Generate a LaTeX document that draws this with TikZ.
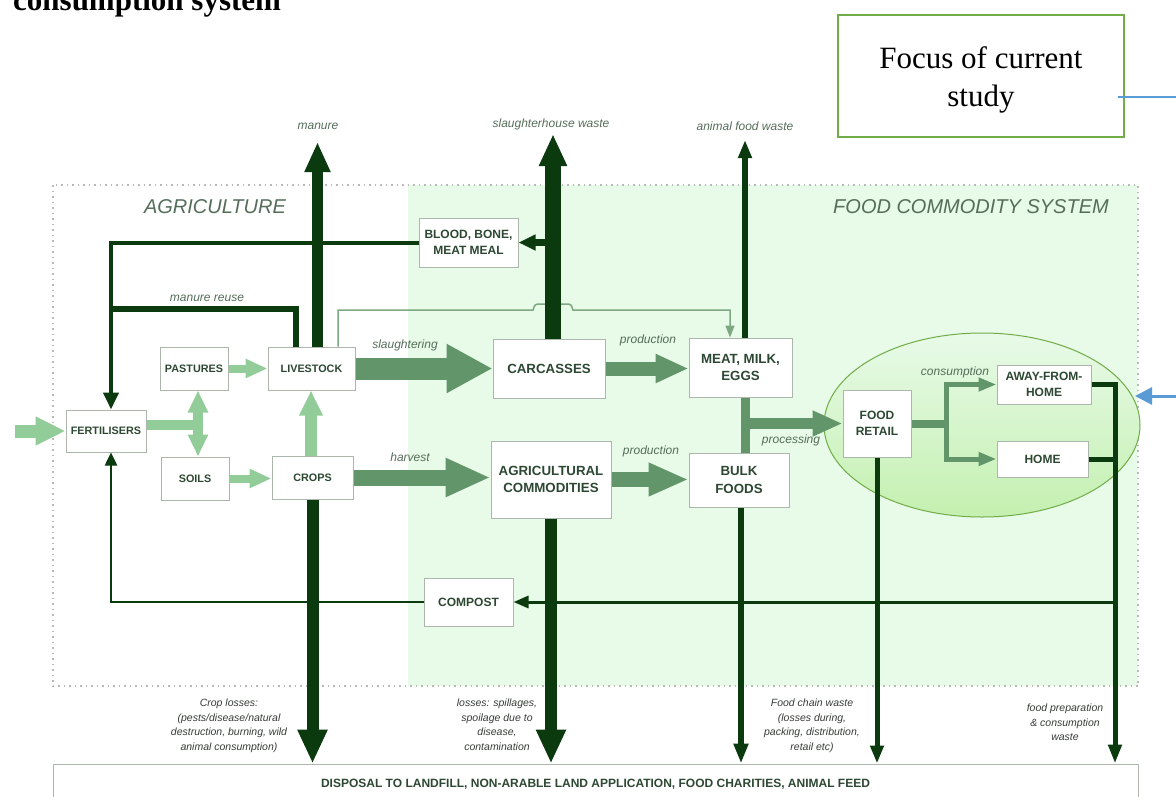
\documentclass[tikz,border=0pt]{standalone}
\usepackage{fontspec}
\setmainfont{Liberation Serif}
\newfontfamily\lsans{Liberation Sans}
\usetikzlibrary{arrows.meta,calc,shapes.geometric}
\definecolor{darkg}{RGB}{11,58,15}
\definecolor{midg}{RGB}{98,150,106}
\definecolor{lightg}{RGB}{146,205,153}
\definecolor{thing}{RGB}{125,168,130}
\definecolor{areag}{RGB}{232,250,232}
\definecolor{ellg}{RGB}{196,240,176}
\definecolor{elline}{RGB}{112,173,71}
\definecolor{boxline}{RGB}{172,182,172}
\definecolor{boxtext}{RGB}{45,72,50}
\definecolor{lblc}{RGB}{85,110,90}
\definecolor{notec}{RGB}{55,60,55}
\definecolor{dotc}{RGB}{185,185,185}
\definecolor{bluec}{RGB}{91,155,213}
\tikzset{
  box/.style={draw=boxline, fill=white, line width=1pt, align=center, inner sep=0pt, text=boxtext},
  fsa/.style={font=\lsans\bfseries\fontsize{10.8}{14}\selectfont},
  fsb/.style={font=\lsans\bfseries\fontsize{12}{16}\selectfont},
  fsc/.style={font=\lsans\bfseries\fontsize{13.3}{17.5}\selectfont},
  lbl/.style={font=\lsans\itshape\fontsize{12}{14}\selectfont, text=lblc, inner sep=0pt},
  areat/.style={font=\lsans\itshape\fontsize{20}{22}\selectfont, text=lblc, inner sep=0pt},
  note/.style={font=\lsans\itshape\fontsize{10.5}{14.5}\selectfont, text=notec, align=center, inner sep=0pt},
  fa/.style n args={3}{line width=#1pt, -{Triangle[width=#2pt,length=#3pt]}},
}
\begin{document}
\begin{tikzpicture}[x=1pt,y=-1pt]
\useasboundingbox (0,0) rectangle (1176,796);
\clip (0,0) rectangle (1176,796);
\fill[white] (0,0) rectangle (1176,796);
% title (cut off at the top edge, as in the reference)
\node[anchor=base west, font=\bfseries\fontsize{31}{31}\selectfont, inner sep=0pt] (title) at (13,10) {consumption system};
% areas
\fill[areag] (408,185) rectangle (1138,686);
\draw[dotc, line width=1.2pt, dash pattern=on 1.5pt off 4pt] (53,185) rectangle (1138,686);
\node[areat] (agt) at (215,207) {AGRICULTURE};
\node[areat] (fct) at (971,207) {FOOD COMMODITY SYSTEM};
% focus ellipse
\draw[elline, line width=1pt, top color=areag, middle color=areag, bottom color=ellg] (982,425) ellipse [x radius=158, y radius=92];
% focus box
\node[draw=elline, line width=2pt, minimum width=286pt, minimum height=122pt, inner sep=0pt] (focus) at (981,76) {};
\node[align=center, font=\fontsize{31}{38}\selectfont, inner sep=0pt] (focustxt) at (981,80) {Focus of current\\study};
\coordinate (blueend) at (1180,97);
\draw[bluec, line width=2pt] ($(focus.east)+(-7,21)$) -- (blueend);
\coordinate (bluestart) at (1180,396);
\coordinate (bluetip) at (1135,396);
\draw[bluec, fa={3}{17}{17}] (bluestart) -- (bluetip);

% nodes
\node[box, fsa, minimum width=80pt, minimum height=42pt] (fert) at (106,431) {FERTILISERS};
\node[box, fsa, minimum width=68pt, minimum height=43pt] (past) at (194,368.5) {PASTURES};
\node[box, fsa, minimum width=68pt, minimum height=43pt] (soils) at (195,478.5) {SOILS};
\node[box, fsa, minimum width=87pt, minimum height=43pt] (live) at (311.5,368.5) {LIVESTOCK};
\node[box, fsa, minimum width=81pt, minimum height=43pt] (crops) at (312.5,477.5) {CROPS};
\node[box, fsb, minimum width=99pt, minimum height=49pt] (blood) at (468.5,242.5) {BLOOD, BONE,\\MEAT MEAL};
\node[box, fsc, minimum width=112pt, minimum height=59pt] (carc) at (549,368.5) {CARCASSES};
\node[box, fsc, minimum width=120pt, minimum height=77pt] (agri) at (551,479.5) {AGRICULTURAL\\COMMODITIES};
\node[box, fsc, minimum width=103pt, minimum height=59pt] (meat) at (740.5,367.5) {MEAT, MILK,\\EGGS};
\node[box, fsc, minimum width=100pt, minimum height=54pt] (bulk) at (739,480) {BULK\\FOODS};
\node[box, fsb, minimum width=68pt, minimum height=67pt] (retail) at (877,423.5) {FOOD\\RETAIL};
\node[box, fsb, minimum width=94pt, minimum height=39pt] (away) at (1044,384.5) {AWAY-FROM-\\HOME};
\node[box, fsb, minimum width=91pt, minimum height=36pt] (home) at (1042.5,459) {HOME};
\node[box, fsb, minimum width=89pt, minimum height=48pt] (compost) at (468.5,602) {COMPOST};
\node[box, fsb, minimum width=1085pt, minimum height=40pt] (disp) at (595.5,784) {DISPOSAL TO LANDFILL, NON-ARABLE LAND APPLICATION, FOOD CHARITIES, ANIMAL FEED};

% helper coordinates
\coordinate (inp) at (15,431);
\coordinate (jf) at (198,425);
\coordinate (vx) at (745,0);
\coordinate (br) at (946,423.5);
\coordinate (rx) at (1115,0);
\coordinate (fx) at ($(fert.north)+(5,0)$);
\coordinate (mr) at (0,309);
\coordinate (manuretip) at (317.5,142);
\coordinate (swtip) at (553,134);
\coordinate (afwtip) at (745,140);
\coordinate (bs) at ($(bulk.south)+(2,0)$);

% light arrows
\draw[lightg, fa={13}{27}{30}] (inp) -- (fert.west);
\draw[lightg, line width=10pt] ($(fert.east)+(0,-6)$) -- (jf);
\draw[lightg, line width=10pt, {Triangle[width=19pt,length=22pt]}-{Triangle[width=19pt,length=22pt]}] (past.south -| jf) -- (soils.north -| jf);
\draw[lightg, fa={8}{18}{22}] (past.east) -- (live.west);
\draw[lightg, fa={8}{18}{22}] (soils.east) -- (soils.east -| crops.west);
\draw[lightg, fa={12}{22}{25}] ($(crops.north)+(-1.5,0)$) -- ($(live.south)+(-0.5,0)$);

% medium arrows
\draw[midg, fa={22}{46}{46}] (live.east) -- (carc.west);
\draw[midg, fa={16}{36}{45}] (crops.east) -- (crops.east -| agri.west);
\draw[midg, fa={14}{27}{33}] (carc.east) -- (carc.east -| meat.west);
\draw[midg, fa={15}{31}{40}] (agri.east) -- (agri.east -| bulk.west);
\draw[midg, line width=9pt] (meat.south -| vx) -- (bulk.north -| vx);
\draw[midg, fa={11}{24}{30}] (vx |- retail.west) -- (retail.west);
\draw[midg, line width=8pt] (retail.east) -- (br);
\draw[midg, line width=5pt, {Triangle[width=13pt,length=18pt]}-{Triangle[width=13pt,length=18pt]}] (away.west) -- (br |- away.west) -- (br |- home.west) -- (home.west);

% thin link livestock -> meat with hop
\draw[thing, line width=1.5pt, -{Triangle[width=9pt,length=12pt]}] ($(live.north)+(26.5,0)$) |- (533,310) .. controls (535,304) .. (541,304) -- (565,304) .. controls (571,304) .. (573,310) -- (730,310) -- ($(meat.north)+(-10.5,0)$);

% dark arrows
\draw[darkg, line width=4pt, -{Triangle[width=15pt,length=17pt]}] (blood.west) -| (fx);
\draw[darkg, line width=5.5pt] ($(live.north)+(-15.5,0)$) |- (fx |- mr);
\draw[darkg, fa={11}{24}{30}] (live.north -| manuretip) -- (manuretip);
\draw[darkg, fa={16}{26}{32}] (carc.north -| swtip) -- (swtip);
\draw[darkg, fa={6}{13}{18}] (meat.north -| afwtip) -- (afwtip);
\draw[darkg, fa={7}{15}{17}] (swtip |- blood.east) -- (blood.east);
\draw[darkg, line width=2.5pt, -{Triangle[width=12pt,length=13pt]}] (compost.west) -| ($(fert.south)+(5,0)$);
\draw[darkg, fa={3}{12}{15}] (rx |- compost.east) -- (compost.east);
\draw[darkg, fa={12}{28}{34}] (crops.south) -- (crops.south |- disp.north);
\draw[darkg, fa={12}{28}{34}] (agri.south) -- (agri.south |- disp.north);
\draw[darkg, fa={6}{14}{20}] (bs) -- (bs |- disp.north);
\draw[darkg, fa={5}{13}{18}] (retail.south) -- (retail.south |- disp.north);
\draw[darkg, line width=5pt, -{Triangle[width=13pt,length=19pt]}] (away.east) -- (rx |- away.east) -- (rx |- disp.north);
\draw[darkg, line width=5pt] (home.east) -- (rx |- home.east);

% labels
\node[lbl] (lmanure) at (318,126) {manure};
\node[lbl] (lsw) at (551,124) {slaughterhouse waste};
\node[lbl] (lafw) at (745,126) {animal food waste};
\node[lbl] (lmr) at (207,298) {manure reuse};
\node[lbl] (lsl) at (405,345) {slaughtering};
\node[lbl] (lhv) at (410,457) {harvest};
\node[lbl] (lp1) at (648,340) {production};
\node[lbl] (lp2) at (651,451) {production};
\node[lbl] (lpr) at (791,440) {processing};
\node[lbl] (lcons) at (955,372) {consumption};

\node[note, anchor=north] (n1) at (229,699) {Crop losses:\\(pests/disease/natural\\destruction, burning, wild\\animal consumption)};
\node[note, anchor=north] (n2) at (497,699) {losses: spillages,\\spoilage due to\\disease,\\contamination};
\node[note, anchor=north] (n3) at (812,699) {Food chain waste\\(losses during,\\packing, distribution,\\retail etc)};
\node[note, anchor=north] (n4) at (1065,704) {food preparation\\\& consumption\\waste};
\end{tikzpicture}
\end{document}
